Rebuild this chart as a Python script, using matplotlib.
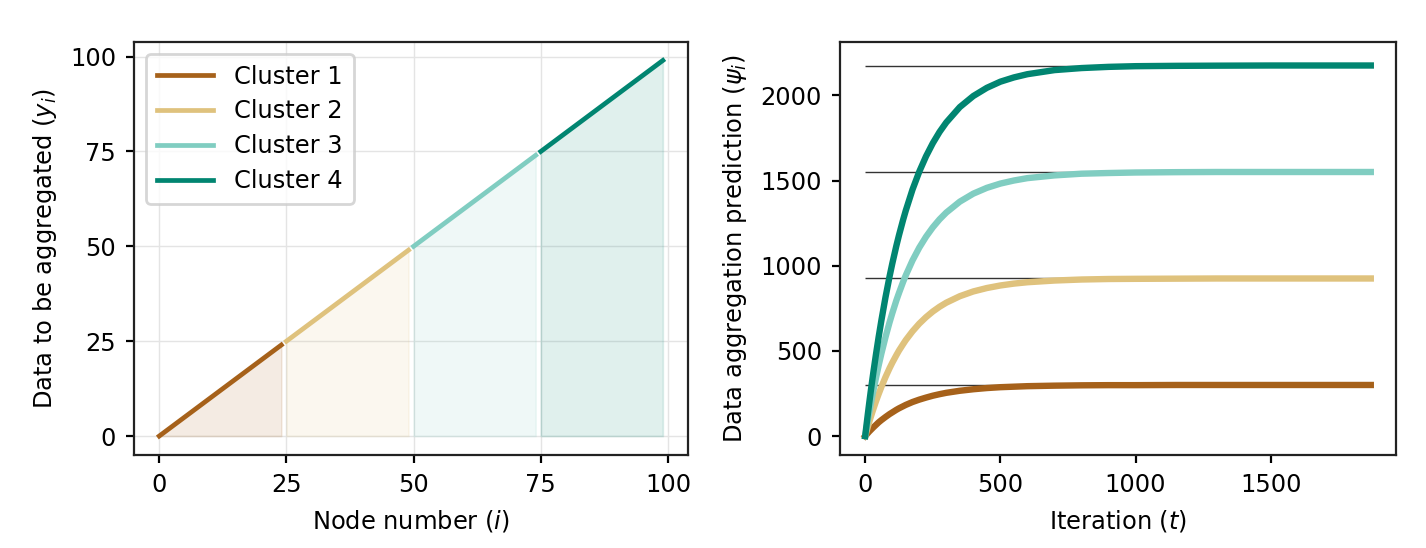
import numpy as np
import matplotlib
matplotlib.use('Agg')
import matplotlib.pyplot as plt

# cluster colours (BrBG, 4 classes)
colors = ['#a6611a', '#dfc27d', '#80cdc1', '#018571']
labels = ['Cluster 1', 'Cluster 2', 'Cluster 3', 'Cluster 4']

# left panel: each node i holds y_i = i, 25 nodes per cluster
seg_nodes = [[0, 24], [25, 49], [50, 74], [75, 99]]
seg_data = [[0, 24], [25, 49], [50, 74], [75, 99]]

# right panel: prediction psi_i vs iteration
iters = [0, 5, 10, 15, 20, 25, 30, 40, 50, 60, 75, 90, 100, 115, 125, 140,
         150, 175, 200, 225, 250, 275, 300, 350, 400, 450, 500, 550, 600,
         700, 800, 900, 1000, 1150, 1300, 1500, 1870]
psi_c1 = [0, 9, 18, 27, 35, 43, 51, 66, 81, 94, 112, 129, 139, 154, 163, 175,
          183, 200, 214, 226, 237, 246, 254, 266, 275, 282, 287, 290, 293,
          296, 298, 299, 299, 300, 300, 300, 300]
psi_c2 = [0, 28, 56, 83, 109, 134, 158, 205, 248, 289, 346, 398, 430, 474,
          502, 539, 563, 615, 660, 698, 731, 759, 783, 821, 849, 869, 884,
          895, 903, 913, 919, 922, 923, 924, 925, 925, 925]
psi_c3 = [0, 48, 94, 139, 182, 224, 265, 343, 416, 485, 580, 667, 720, 795,
          840, 904, 943, 1031, 1106, 1170, 1225, 1272, 1312, 1376, 1423,
          1457, 1482, 1500, 1514, 1530, 1540, 1544, 1547, 1549, 1550, 1550,
          1550]
psi_c4 = [0, 67, 132, 195, 256, 315, 372, 481, 584, 680, 814, 936, 1011,
          1115, 1179, 1268, 1323, 1447, 1552, 1642, 1719, 1785, 1841, 1931,
          1996, 2044, 2080, 2105, 2124, 2148, 2160, 2167, 2171, 2173, 2174,
          2175, 2175]
cluster_sums = [300, 925, 1550, 2175]

plt.rcParams['font.family'] = ['DejaVu Sans']
plt.rcParams['font.size'] = 8.7

fig = plt.figure(figsize=(7.13, 2.74), dpi=200)
ax1 = fig.add_axes([0.094, 0.170, 0.3885, 0.754])
ax2 = fig.add_axes([0.589, 0.170, 0.390, 0.754])

for xs, ys, c, lab in zip(seg_nodes, seg_data, colors, labels):
    ax1.plot(xs, ys, color=c, lw=1.7, label=lab, zorder=3)
    ax1.fill_between(xs, 0, ys, color=c, alpha=0.12, lw=0.6, zorder=2)
ax1.grid(True, color='#e4e4e4', lw=0.5)
ax1.set_axisbelow(True)
ax1.set_xticks([0, 25, 50, 75, 100])
ax1.set_yticks([0, 25, 50, 75, 100])
ax1.set_xlabel('Node number ($i$)')
ax1.set_ylabel('Data to be aggregated ($y_i$)')
ax1.legend(loc='upper left', fontsize=8.7, handlelength=2.3, borderpad=0.45,
           labelspacing=0.45, handletextpad=0.9)

ax2.hlines(cluster_sums, 0, iters[-1], color='k', lw=0.5, alpha=0.8, zorder=1)
for psi, c in zip([psi_c1, psi_c2, psi_c3, psi_c4], colors):
    ax2.plot(iters, psi, color=c, lw=2.3, zorder=3)
ax2.set_ylim(-110, 2315)
ax2.set_xticks([0, 500, 1000, 1500])
ax2.set_yticks([0, 500, 1000, 1500, 2000])
ax2.set_xlabel('Iteration ($t$)')
ax2.set_ylabel('Data aggregation prediction ($\\psi_i$)')

for ax in (ax1, ax2):
    for sp in ax.spines.values():
        sp.set_linewidth(0.8)
        sp.set_color('#222222')
    ax.tick_params(width=0.8, length=3)

fig.savefig('out.png', dpi=200)
